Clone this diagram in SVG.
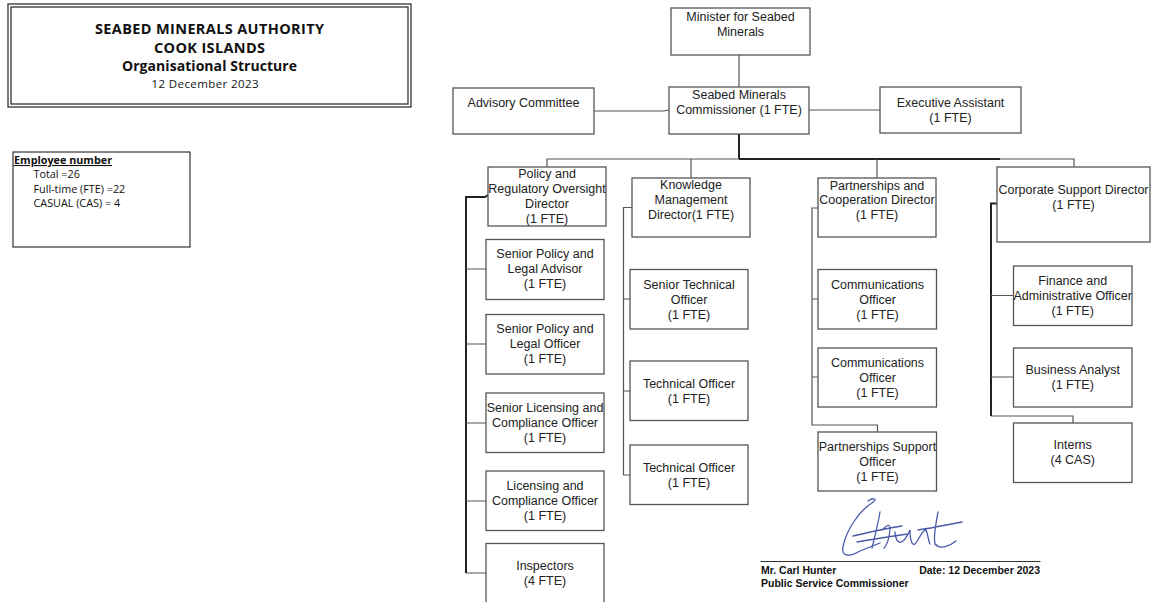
<svg xmlns="http://www.w3.org/2000/svg" width="1151" height="602" viewBox="0 0 1151 602">
<style>
.bx{fill:#fff;stroke:#555;stroke-width:1.3}
.t{font-family:"Liberation Sans",Arial,sans-serif;font-size:12.5px;fill:#222;text-anchor:middle}
.c{stroke:#555;stroke-width:1.2;fill:none}
.k{stroke:#222;stroke-width:2;fill:none}
.h{font-family:"Open Sans",Lato,sans-serif;fill:#111;text-anchor:middle}
.e{font-family:"Open Sans",Lato,sans-serif;font-size:10.8px;fill:#111}
.s{font-family:"Liberation Sans",Arial,sans-serif;font-size:10.5px;font-weight:bold;fill:#111}
</style>
<rect width="1151" height="602" fill="#fff"/>

<g id="title">
<rect x="8" y="4" width="403" height="103" fill="none" stroke="#333" stroke-width="1.3"/>
<rect x="11" y="7" width="397" height="97" fill="none" stroke="#333" stroke-width="1.3"/>
<text class="h" x="209.5" y="34" font-size="14.5" font-weight="bold" textLength="229">SEABED MINERALS AUTHORITY</text>
<text class="h" x="209.5" y="53" font-size="14.5" font-weight="bold" textLength="111">COOK ISLANDS</text>
<text class="h" x="209.5" y="71" font-size="14" font-weight="bold" textLength="175">Organisational Structure</text>
<text class="h" x="205" y="88" font-size="11.5" textLength="107">12 December 2023</text>
</g>

<g id="employees">
<rect x="13" y="152" width="177" height="95" fill="#fff" stroke="#333" stroke-width="1.2"/>
<text class="e" x="14" y="164" font-weight="bold" text-decoration="underline">Employee number</text>
<text class="e" x="33.5" y="178">Total =26</text>
<text class="e" x="33.5" y="192.5">Full-time (FTE) =22</text>
<text class="e" x="33.5" y="207">CASUAL (CAS) = 4</text>
</g>

<g id="connectors">
<path class="c" d="M739 55 V87"/>
<path class="c" d="M594 111 H664 L669 110"/>
<path class="c" d="M809 110 H880"/>
<path class="k" d="M739 134 V159"/>
<path class="k" d="M739 159 H1000"/>
<path class="c" d="M1000 159 H1074 V167"/>
<path class="c" d="M739 159 H547 V167"/>
<path class="c" d="M691 159 V178"/>
<path class="c" d="M877 159 V178"/>
<path class="k" d="M466 573 V197 H485 L488 195"/>
<path class="c" d="M466 269 H486 M466 344 H486 M466 423 H486 M466 501 H486 M466 573 H486"/>
<path class="c" d="M632 207.5 H623.5 V475 H630 M623.5 299 H630 M623.5 391 H630"/>
<path class="c" d="M818 208 H812 V425 H877.5 V432 M812 299 H818 M812 377 H818"/>
<path class="k" d="M997 203.5 H991 V416"/>
<path class="c" d="M991 416 H1073 V423 M991 295.5 H1013 M991 377 H1013"/>
</g>

<g id="minister"><rect class="bx" x="671" y="8" width="139" height="47"/>
<text class="t" x="740.5" y="21">Minister for Seabed</text><text class="t" x="740.5" y="36">Minerals</text></g>
<g id="commissioner"><rect class="bx" x="669" y="87" width="140" height="47"/>
<text class="t" x="739" y="99">Seabed Minerals</text><text class="t" x="739" y="114">Commissioner (1 FTE)</text></g>
<g id="advisory"><rect class="bx" x="453" y="88" width="141" height="46"/>
<text class="t" x="523.5" y="107">Advisory Committee</text></g>
<g id="exec"><rect class="bx" x="880" y="87" width="141" height="46"/>
<text class="t" x="950.5" y="106.5">Executive Assistant</text><text class="t" x="950.5" y="121.5">(1 FTE)</text></g>

<g id="policy-dir"><rect class="bx" x="488" y="167" width="118" height="59"/>
<text class="t" x="547" y="178">Policy and</text><text class="t" x="547" y="193">Regulatory Oversight</text><text class="t" x="547" y="208">Director</text><text class="t" x="547" y="223">(1 FTE)</text></g>
<g id="knowledge-dir"><rect class="bx" x="632" y="178" width="118" height="59"/>
<text class="t" x="691" y="189">Knowledge</text><text class="t" x="691" y="204">Management</text><text class="t" x="691" y="219">Director(1 FTE)</text></g>
<g id="partner-dir"><rect class="bx" x="818" y="178" width="118" height="59"/>
<text class="t" x="877" y="189.5">Partnerships and</text><text class="t" x="877" y="204">Cooperation Director</text><text class="t" x="877" y="219">(1 FTE)</text></g>
<g id="corporate-dir"><rect class="bx" x="997" y="167" width="153" height="75"/>
<text class="t" x="1073.5" y="193.5">Corporate Support Director</text><text class="t" x="1073.5" y="209">(1 FTE)</text></g>

<g id="spla"><rect class="bx" x="486" y="239.5" width="118" height="60"/>
<text class="t" x="545" y="258">Senior Policy and</text><text class="t" x="545" y="273">Legal Advisor</text><text class="t" x="545" y="288">(1 FTE)</text></g>
<g id="splo"><rect class="bx" x="486" y="314.5" width="118" height="59.5"/>
<text class="t" x="545" y="333">Senior Policy and</text><text class="t" x="545" y="348">Legal Officer</text><text class="t" x="545" y="363">(1 FTE)</text></g>
<g id="slco"><rect class="bx" x="486" y="393" width="118" height="59.5"/>
<text class="t" x="545" y="412">Senior Licensing and</text><text class="t" x="545" y="427">Compliance Officer</text><text class="t" x="545" y="442">(1 FTE)</text></g>
<g id="lco"><rect class="bx" x="486" y="471" width="118" height="59.5"/>
<text class="t" x="545" y="490">Licensing and</text><text class="t" x="545" y="505">Compliance Officer</text><text class="t" x="545" y="520">(1 FTE)</text></g>
<g id="inspectors"><rect class="bx" x="486" y="543.5" width="118" height="70"/>
<text class="t" x="545" y="570">Inspectors</text><text class="t" x="545" y="585">(4 FTE)</text></g>

<g id="sto"><rect class="bx" x="630" y="269.5" width="118" height="59.5"/>
<text class="t" x="689" y="288.5">Senior Technical</text><text class="t" x="689" y="303.5">Officer</text><text class="t" x="689" y="318.5">(1 FTE)</text></g>
<g id="to1"><rect class="bx" x="630" y="361" width="118" height="59.5"/>
<text class="t" x="689" y="387.5">Technical Officer</text><text class="t" x="689" y="402.5">(1 FTE)</text></g>
<g id="to2"><rect class="bx" x="630" y="445" width="118" height="59.5"/>
<text class="t" x="689" y="471.5">Technical Officer</text><text class="t" x="689" y="486.5">(1 FTE)</text></g>

<g id="comm1"><rect class="bx" x="818" y="269.5" width="118.5" height="59.5"/>
<text class="t" x="877.5" y="288.5">Communications</text><text class="t" x="877.5" y="303.5">Officer</text><text class="t" x="877.5" y="318.5">(1 FTE)</text></g>
<g id="comm2"><rect class="bx" x="818" y="348" width="118.5" height="59"/>
<text class="t" x="877.5" y="367">Communications</text><text class="t" x="877.5" y="382">Officer</text><text class="t" x="877.5" y="396.5">(1 FTE)</text></g>
<g id="pso"><rect class="bx" x="818" y="432" width="118.5" height="59"/>
<text class="t" x="877.5" y="451">Partnerships Support</text><text class="t" x="877.5" y="466">Officer</text><text class="t" x="877.5" y="481">(1 FTE)</text></g>

<g id="finance"><rect class="bx" x="1013.5" y="266" width="118.5" height="59.5"/>
<text class="t" x="1072.7" y="285">Finance and</text><text class="t" x="1072.7" y="300">Administrative Officer</text><text class="t" x="1072.7" y="315">(1 FTE)</text></g>
<g id="analyst"><rect class="bx" x="1013.5" y="348" width="118.5" height="59"/>
<text class="t" x="1072.7" y="374">Business Analyst</text><text class="t" x="1072.7" y="389">(1 FTE)</text></g>
<g id="interns"><rect class="bx" x="1013.5" y="423" width="118.5" height="59.5"/>
<text class="t" x="1072.7" y="449">Interns</text><text class="t" x="1072.7" y="464">(4 CAS)</text></g>

<g id="signature">
<path d="M868 501 C874 497 878 499 872 503 C860 510 846 530 843 547 C841 557 850 557 860 551 L880 543 M853 536 C870 532 888 528 902 526 M857 542 C875 539 893 536 908 534 M880 512 C878 524 875 536 872 548 M882 530 C888 524 892 522 889 536 C888 542 886 546 884 548 M895 532 C896 546 903 546 910 530 C910 540 912 546 915 544 C920 538 922 530 926 530 C928 534 928 540 930 544 M938 512 C936 524 933 536 935 544 C940 550 950 546 956 541 M918 530 C932 528 946 525 962 522" fill="none" stroke="#4a5aa8" stroke-width="1.3" stroke-linecap="round"/>
<line x1="760.5" y1="561.5" x2="1040.5" y2="561.5" stroke="#333" stroke-width="1.2"/>
<text class="s" x="761" y="573.5">Mr. Carl Hunter</text>
<text class="s" x="1040" y="573.5" text-anchor="end">Date: 12 December 2023</text>
<text class="s" x="761" y="586.5">Public Service Commissioner</text>
</g>
</svg>
